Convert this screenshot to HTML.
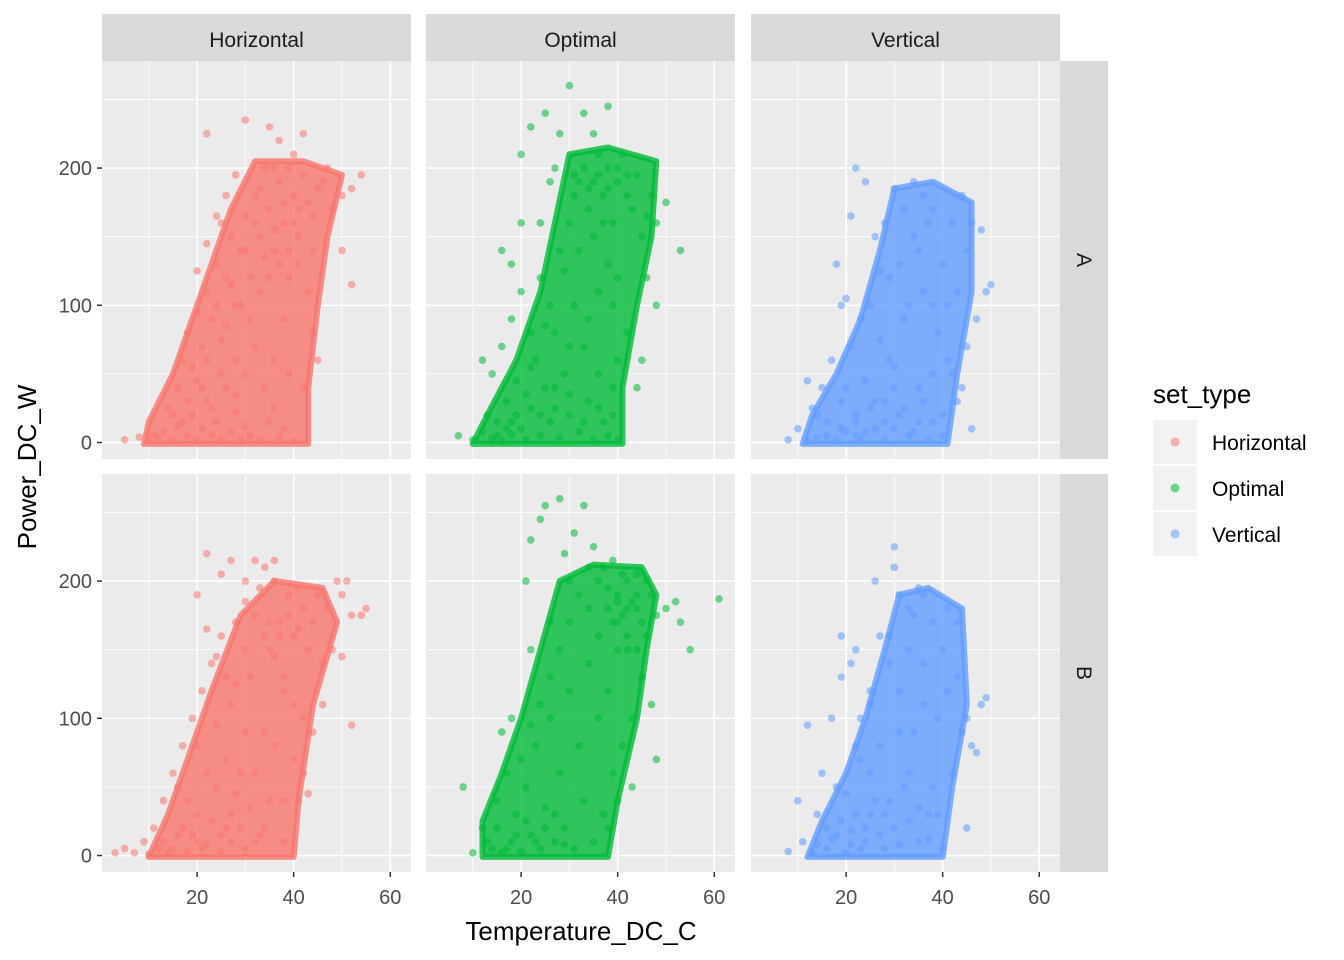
<!DOCTYPE html>
<html><head><meta charset="utf-8"><style>
html,body{margin:0;padding:0;background:#fff;width:1344px;height:960px;overflow:hidden}
svg{font-family:"Liberation Sans",sans-serif}
</style></head><body>
<svg id="chart" width="1344" height="960" xmlns="http://www.w3.org/2000/svg"></svg>
<script>
const colTypes = ["Horizontal","Optimal","Vertical"];
const rowTypes = ["A","B"];
const colors = ["#F8766D","#00BA38","#619CFF"];
const xTicks = [20,40,60];
const yTicks = [0,100,200];
const ptsHA = "5 2,8 4,10 1,12 3,13 8,15 2,16 12,18 5,19 20,20 2,21 10,22 30,23 6,24 15,25 3,26 40,27 8,28 22,29 2,30 12,31 5,33 2,35 15,37 4,40 1,14 25,16 40,17 60,18 80,19 55,20 95,21 70,22 110,23 90,24 130,25 75,26 120,27 150,28 100,29 140,30 165,31 120,32 180,33 150,34 200,35 170,36 140,37 190,38 160,39 200,40 180,41 150,42 195,43 175,44 165,45 185,46 190,47 200,48 170,50 180,52 185,54 195,50 140,52 115,45 60,44 80,38 90,36 60,34 40,32 70,30 50,28 60,26 85,24 100,22 60,20 45,18 30,15 20,25 50,27 115,29 100,31 90,33 110,35 120,37 130,39 120,41 130,43 110,35 230,37 220,30 235,22 225,28 195,26 180,24 165,22 145,20 125,33 185,36 200,40 210,42 225,38 175,36 155,34 135,32 160,41 170,39 140,40 160,44 140,25 160,30 140,21 40,17 15,11 6,23 25,28 35,36 25,38 10,39 50,42 40";
const ptsOA = "7 5,10 2,12 8,14 3,15 15,16 1,17 30,18 6,19 45,20 10,21 2,22 25,23 60,24 5,25 40,26 15,27 80,28 3,29 50,30 20,31 100,32 8,33 70,34 30,35 2,36 50,37 15,38 5,39 40,40 2,12 60,14 50,16 70,18 90,20 110,22 80,24 120,26 100,28 140,29 125,30 160,31 180,32 140,33 200,34 170,35 190,36 210,37 180,38 200,39 160,40 190,41 210,42 180,43 170,44 195,45 150,46 165,47 180,48 160,50 175,53 140,46 120,48 100,45 60,42 80,40 120,38 130,36 110,34 90,30 70,27 40,25 85,22 55,19 20,17 10,20 210,22 230,25 240,28 225,30 260,33 240,35 225,38 245,27 200,24 160,20 160,18 130,16 140,26 190,32 190,35 150,37 160,39 100,40 60,44 40,13 20,15 5,18 15,21 35,24 20,27 25,30 35,33 15,36 25,39 20,31 195,34 185,36 195,38 185,40 200,42 195";
const ptsVA = "8 2,10 10,12 1,13 25,14 3,15 40,16 5,17 60,18 2,19 30,20 8,21 70,22 15,23 3,24 45,25 100,26 10,27 75,28 2,29 120,30 55,31 20,32 90,33 5,34 150,35 40,36 110,37 2,38 170,39 80,40 130,41 60,42 160,43 110,44 180,45 140,46 160,48 155,49 110,50 115,47 90,45 70,43 30,42 50,40 20,38 100,36 180,34 190,32 170,30 185,28 160,26 150,24 190,22 200,21 165,18 130,19 100,20 105,14 20,12 45,20 40,23 90,27 125,31 130,35 140,37 160,33 100,29 60,25 25,22 5,28 30,30 10,35 15,38 50,41 100,44 40,46 10,16 15,19 10,22 20,24 8,26 30,28 15,30 40,32 25,34 8,36 30,38 15,40 5";
const ptsHB = "3 2,5 5,7 2,9 10,10 1,11 20,12 5,13 40,14 2,15 60,16 15,17 80,18 3,19 100,20 30,21 120,22 8,23 140,24 50,25 160,26 20,27 110,28 170,29 60,30 185,31 130,32 10,33 195,34 90,35 150,36 200,37 170,38 130,39 190,40 160,41 195,42 180,43 150,44 170,45 190,46 140,47 180,48 150,49 200,50 190,51 200,52 175,54 175,55 180,50 145,52 95,46 110,44 90,42 60,40 70,38 40,36 80,34 20,32 60,30 90,28 45,26 70,24 95,22 60,20 80,18 40,16 50,22 220,25 205,27 215,30 200,32 215,34 210,36 215,20 190,22 165,24 145,26 130,28 125,30 150,32 175,34 160,36 145,38 120,40 110,42 100,35 40,33 15,30 5,27 10,25 3,20 10,15 5,38 10,41 40,43 45,13 10,17 20,19 15,21 5,23 25,25 15,27 30,29 20,31 35,35 170,37 160,39 175,41 165";
const ptsOB = "8 50,10 2,12 20,14 5,15 40,16 2,17 60,18 10,19 30,20 3,21 50,22 15,23 80,24 5,25 35,26 100,27 10,28 60,29 20,30 120,31 5,32 80,33 40,34 140,35 10,36 100,37 30,38 120,39 60,40 150,41 80,42 160,43 100,44 150,45 170,46 160,47 190,48 175,50 180,52 185,53 170,55 150,61 187,38 180,40 190,42 200,39 170,41 175,43 185,36 200,34 210,32 190,30 170,28 150,26 130,24 110,22 95,20 70,18 100,16 90,21 200,22 230,24 245,25 255,28 260,29 220,31 235,33 255,35 225,37 210,39 215,44 205,22 150,26 170,30 200,34 180,36 160,44 190,46 200,40 170,42 150,45 130,47 110,48 70,43 50,40 40,38 20,13 10,15 20,17 5,19 15,21 25,23 10,25 20,27 30,29 8,40 185,42 180,44 180,38 195,41 205";
const ptsVB = "8 3,10 40,11 10,12 95,13 2,14 30,15 60,16 5,17 100,18 15,19 130,20 45,21 8,22 150,23 70,24 20,25 110,26 200,27 80,28 30,29 160,30 210,31 120,32 50,33 180,34 90,35 195,36 140,37 30,38 170,39 100,40 150,41 120,42 60,43 130,44 90,45 100,46 80,48 110,49 115,47 75,45 20,40 5,38 50,35 10,33 60,30 20,28 5,26 40,24 10,22 30,20 2,18 50,16 20,30 225,31 190,34 175,36 190,33 150,29 140,27 160,25 120,23 100,21 140,19 160,22 80,25 60,31 90,36 110,41 180,43 170,14 8,17 12,19 25,21 18,23 5,25 30,27 15,29 40,31 8,33 25,35 35,37 12,39 30";
const panelData = [[ptsHA,ptsOA,ptsVA],[ptsHB,ptsOB,ptsVB]];
// dense-region outlines (data units)
const hullHA = "9 -1,43 -1,43 40,45 100,47 150,50 195,42 205,32 205,27 170,23 130,19 90,15 50,10 15";
const hullOA = "10 -1,41 -1,41 40,44 100,47 150,48 205,38 215,30 210,27 160,24 110,19 60,13 20";
const hullVA = "11 -1,41 -1,43 50,46 110,46 175,38 190,30 185,27 140,23 90,18 50,13 20";
const hullHB = "10 -1,40 -1,41 40,44 110,49 170,46 195,36 200,29 175,23 120,18 70,14 30";
const hullOB = "12 -1,38 -1,40 40,44 100,46 150,48 190,45 210,35 212,28 200,24 150,20 100,16 60,12 25";
const hullVB = "12 -1,40 -1,42 50,45 110,44 180,37 195,31 190,28 150,24 100,20 60,15 25";
const hullData = [[hullHA,hullOA,hullVA],[hullHB,hullOB,hullVB]];

const NS="http://www.w3.org/2000/svg";
const svg=document.getElementById('chart');
function mk(tag,attrs,parent){const e=document.createElementNS(NS,tag);for(const k in attrs)e.setAttribute(k,attrs[k]);(parent||svg).appendChild(e);return e;}
const colX=[102,426,751], pW=309;
const rowY=[61,474], pH=398;
const xDom=[0.3,64.3], yDom=[-12,278];
function xs(c,v){return colX[c]+(v-xDom[0])/(xDom[1]-xDom[0])*pW;}
function ys(r,v){return rowY[r]+pH-(v-yDom[0])/(yDom[1]-yDom[0])*pH;}

for(let r=0;r<2;r++)for(let c=0;c<3;c++){
  const g=mk('g',{});
  
  
  mk('rect',{x:colX[c],y:rowY[r],width:pW,height:pH,fill:'#EBEBEB'},g);
  [10,30,50].forEach(v=>mk('line',{x1:xs(c,v),x2:xs(c,v),y1:rowY[r],y2:rowY[r]+pH,stroke:'#fff','stroke-width':0.8},g));
  [50,150,250].forEach(v=>mk('line',{x1:colX[c],x2:colX[c]+pW,y1:ys(r,v),y2:ys(r,v),stroke:'#fff','stroke-width':0.8},g));
  xTicks.forEach(v=>mk('line',{x1:xs(c,v),x2:xs(c,v),y1:rowY[r],y2:rowY[r]+pH,stroke:'#fff','stroke-width':1.6},g));
  yTicks.forEach(v=>mk('line',{x1:colX[c],x2:colX[c]+pW,y1:ys(r,v),y2:ys(r,v),stroke:'#fff','stroke-width':1.6},g));
  const hp=hullData[r][c].split(',').map(p=>{const [x,y]=p.trim().split(' ').map(Number);return xs(c,x).toFixed(1)+','+ys(r,y).toFixed(1);}).join(' ');
  const hull=mk('polygon',{points:hp,fill:colors[c],'fill-opacity':0.8,stroke:colors[c],'stroke-width':6,'stroke-linejoin':'round','stroke-opacity':0.8},g);
  
  
  panelData[r][c].split(',').forEach(p=>{
    const [x,y]=p.trim().split(' ').map(Number);
    const pt=mk('circle',{cx:xs(c,x),cy:ys(r,y),r:3.8,fill:colors[c],'fill-opacity':0.55},g);
    
    
  });
}
colTypes.forEach((t,c)=>{
  const s=mk('rect',{x:colX[c],y:14,width:pW,height:47,fill:'#D9D9D9'});
  
  
  const tx=mk('text',{x:colX[c]+pW/2,y:47,'text-anchor':'middle','font-size':21,fill:'#1A1A1A'});tx.textContent=t;
});
rowTypes.forEach((t,r)=>{
  const s=mk('rect',{x:1060,y:rowY[r],width:48,height:pH,fill:'#D9D9D9'});
  
  
  const cy=rowY[r]+pH/2;
  const tx=mk('text',{x:1077,y:cy,'text-anchor':'middle','font-size':21,fill:'#1A1A1A',transform:`rotate(90 1077 ${cy})`});tx.textContent=t;
});
rowTypes.forEach((t,r)=>yTicks.forEach(v=>{
  mk('line',{x1:97,x2:102,y1:ys(r,v),y2:ys(r,v),stroke:'#333','stroke-width':1.5});
  const tx=mk('text',{x:92,y:ys(r,v)+7,'text-anchor':'end','font-size':20,fill:'#4D4D4D'});tx.textContent=v;
  
  
}));
colTypes.forEach((t,c)=>xTicks.forEach(v=>{
  mk('line',{x1:xs(c,v),x2:xs(c,v),y1:872,y2:877,stroke:'#333','stroke-width':1.5});
  const tx=mk('text',{x:xs(c,v),y:904,'text-anchor':'middle','font-size':20,fill:'#4D4D4D'});tx.textContent=v;
  
  
}));
const xt=mk('text',{x:581,y:940,'text-anchor':'middle','font-size':26,fill:'#000'});xt.textContent='Temperature_DC_C';


const yt=mk('text',{x:36,y:467,'text-anchor':'middle','font-size':26,fill:'#000',transform:'rotate(-90 36 467)'});yt.textContent='Power_DC_W';


const lt=mk('text',{x:1153,y:403,'font-size':26,fill:'#000'});lt.textContent='set_type';


colTypes.forEach((t,i)=>{
  const g=mk('g',{});
  
  
  const y0=420+i*46;
  mk('rect',{x:1153,y:y0,width:44,height:44,fill:'#F2F2F2'},g);
  mk('circle',{cx:1175,cy:y0+22,r:4.5,fill:colors[i],'fill-opacity':0.55},g);
  const tx=mk('text',{x:1212,y:y0+30,'font-size':21,fill:'#000'},g);tx.textContent=t;
});
</script>
</body></html>
